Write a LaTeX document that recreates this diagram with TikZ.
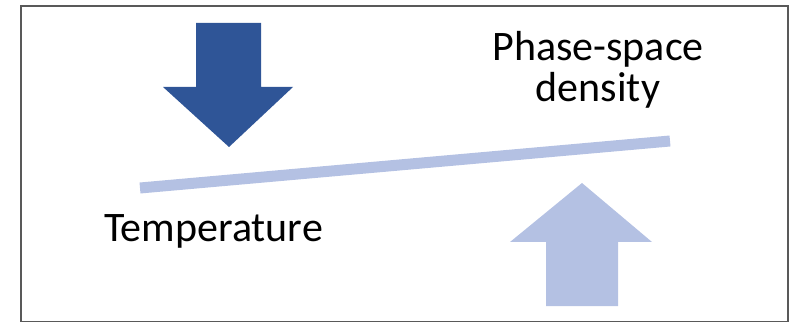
\documentclass[tikz,border=0pt]{standalone}
\usepackage{fontspec}
\setmainfont{Carlito}
\definecolor{darkarrow}{HTML}{2F5597}
\definecolor{lightarrow}{HTML}{B4C1E3}
\tikzset{
  frame/.style={draw=black!65, line width=1.2pt},
  bigtext/.style={font=\fontsize{42}{41}\selectfont, inner sep=0pt, align=center},
}
\begin{document}
\begin{tikzpicture}[x=1pt, y=-1pt]
  \useasboundingbox (0,0) rectangle (798,323);
  \draw[frame] (21,6) rectangle (788,321.5);
  % block arrows
  \fill[darkarrow] (196,23) -- (261,23) -- (261,87) -- (293,87) -- (229,147) -- (163,87) -- (196,87) -- cycle;
  \fill[lightarrow] (546,306) -- (618,306) -- (618,242) -- (652,242) -- (582,183) -- (510,242) -- (546,242) -- cycle;
  % seesaw bar
  \coordinate (barleft) at (140,188);
  \coordinate (barright) at (670,141);
  \draw[lightarrow, line width=11pt] (barleft) -- (barright);
  \node[bigtext, anchor=base] (temp) at (213.5,242) {Temperature};
  \node[bigtext, anchor=base] (psd) at (598,102) {Phase-space\\density};
\end{tikzpicture}
\end{document}
